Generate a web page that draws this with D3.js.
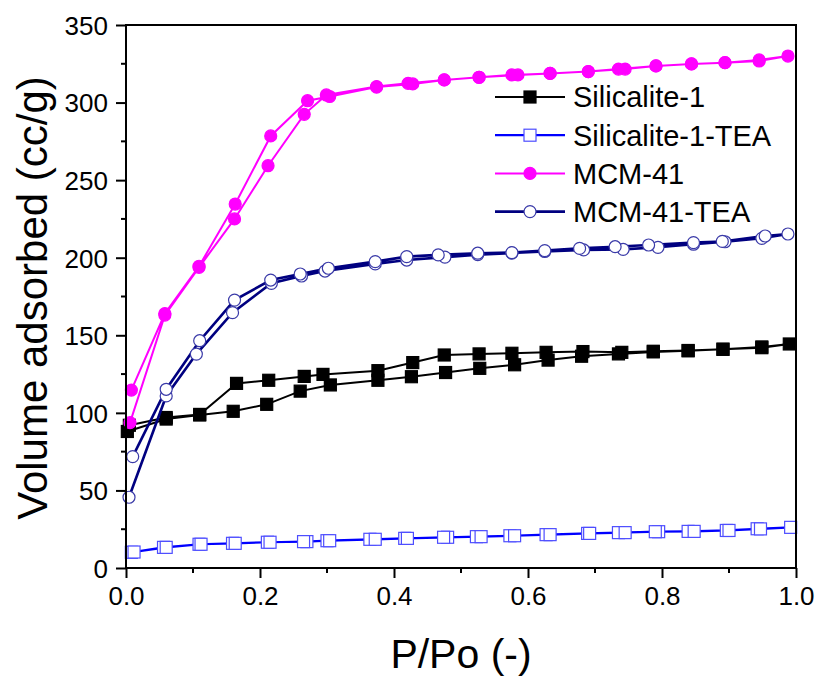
<!DOCTYPE html>
<html lang="en">
<head>
<meta charset="utf-8">
<title>Isotherms</title>
<script src="https://d3js.org/d3.v7.min.js"></script>
<style>
  body { margin: 0; background: #fff; }
  text { font-family: "Liberation Sans", Arial, sans-serif; fill: #000; }
</style>
</head>
<body>
<div id="chart"></div>
<script>
// relative pressure / volume adsorbed, adsorption then desorption branch
var sil1P = [0.002, 0.06, 0.11, 0.16, 0.21, 0.26, 0.305, 0.376, 0.426, 0.477, 0.528, 0.58, 0.63, 0.68, 0.735, 0.787, 0.839, 0.891, 0.949, 0.99,
             0.949, 0.891, 0.839, 0.787, 0.74, 0.682, 0.627, 0.576, 0.527, 0.475, 0.428, 0.376, 0.294, 0.266, 0.213, 0.165, 0.11, 0.06, 0.005];
var sil1V = [88, 96, 98.6, 101, 105.5, 114, 118, 121, 123.3, 126, 128.7, 131, 134, 136.5, 138, 139.3, 140, 141, 142, 144.4,
             142.5, 141, 140.2, 139.7, 139, 139.5, 139, 138.4, 138, 137.3, 132.4, 127.2, 124.8, 123.5, 121, 119, 99, 97, 92];

var silTeaP = [0.008, 0.056, 0.109, 0.159, 0.211, 0.27, 0.3, 0.364, 0.416, 0.48, 0.523, 0.573, 0.627, 0.689, 0.735, 0.795, 0.839, 0.896, 0.942, 0.992,
               0.947, 0.9, 0.848, 0.79, 0.745, 0.692, 0.633, 0.58, 0.53, 0.474, 0.42, 0.372, 0.304, 0.265, 0.215, 0.163, 0.112, 0.06, 0.012];
var silTeaV = [10.1, 13.3, 15.3, 15.9, 16.6, 17, 17.6, 18.5, 19.1, 19.8, 20.2, 20.8, 21.5, 22.3, 22.8, 23.4, 23.6, 24.2, 25.3, 26.2,
               25.2, 24.2, 23.6, 23.4, 22.8, 22.3, 21.5, 20.8, 20.2, 19.8, 19.1, 18.5, 17.6, 17, 16.6, 15.9, 15.3, 13.3, 10.3];

var mcmP = [0.006, 0.058, 0.109, 0.162, 0.212, 0.266, 0.299, 0.374, 0.421, 0.475, 0.527, 0.576, 0.633, 0.69, 0.735, 0.791, 0.844, 0.894, 0.945, 0.988,
            0.945, 0.894, 0.844, 0.791, 0.745, 0.69, 0.633, 0.585, 0.527, 0.475, 0.428, 0.374, 0.304, 0.271, 0.216, 0.163, 0.109, 0.058, 0.008];
var mcmV = [93.7, 163, 193.8, 225, 259.3, 292.4, 304.9, 310.3, 312.4, 314.6, 316.3, 317.8, 318.8, 320, 321.6, 323.6, 324.9, 325.7, 326.8, 330,
            327.5, 325.7, 324.9, 323.6, 321.6, 320, 318.8, 317.8, 316.3, 314.6, 312, 310, 303.9, 301.2, 278.5, 234.6, 194.5, 164, 114.7];

var mcmTeaP = [0.0045, 0.06, 0.105, 0.159, 0.217, 0.262, 0.297, 0.372, 0.419, 0.476, 0.525, 0.576, 0.625, 0.683, 0.742, 0.794, 0.847, 0.894, 0.949, 0.988,
               0.954, 0.89, 0.847, 0.78, 0.73, 0.677, 0.625, 0.576, 0.525, 0.466, 0.419, 0.372, 0.302, 0.26, 0.216, 0.162, 0.11, 0.06, 0.01];
var mcmTeaV = [45.6, 110.9, 137.9, 164.6, 183.5, 188.2, 191.4, 196, 198.5, 200.4, 202, 203, 204, 205, 205.4, 206.7, 208.7, 210.3, 212.5, 215.3,
               214, 210.5, 209.7, 208.2, 207.1, 206, 204.6, 203.3, 202.9, 201.8, 200.7, 197.5, 193.2, 189.5, 185.6, 172.7, 146.5, 115.2, 71.8];

var seriesNames = ["Silicalite-1", "Silicalite-1-TEA", "MCM-41", "MCM-41-TEA"];
var xTicks = [0, 0.2, 0.4, 0.6, 0.8, 1.0];
var yTicks = [0, 50, 100, 150, 200, 250, 300, 350];

var W = 819, H = 688;
var svg = d3.select("#chart").append("svg").attr("width", W).attr("height", H);

var x = d3.scaleLinear().domain([0, 1]).range([126, 796]);
var y = d3.scaleLinear().domain([0, 350]).range([568, 25]);

var styles = [
  { line: "#000000", stroke: "#000000", fill: "#000000", shape: "square", lw: 2 },
  { line: "#0000ff", stroke: "#4d4dff", fill: "#ffffff", shape: "square", lw: 2.2 },
  { line: "#ff00ff", stroke: "#ff00ff", fill: "#ff00ff", shape: "circle", lw: 2 },
  { line: "#000080", stroke: "#3a3aa8", fill: "#ffffff", shape: "circle", lw: 2.6 }
];
var allP = [sil1P, silTeaP, mcmP, mcmTeaP];
var allV = [sil1V, silTeaV, mcmV, mcmTeaV];

function marker(g, st, cx, cy) {
  if (st.shape === "square") {
    g.append("rect").attr("x", cx - 6).attr("y", cy - 6).attr("width", 12).attr("height", 12)
      .attr("fill", st.fill).attr("stroke", st.stroke).attr("stroke-width", 1.2);
  } else {
    g.append("circle").attr("cx", cx).attr("cy", cy).attr("r", 6)
      .attr("fill", st.fill).attr("stroke", st.stroke).attr("stroke-width", 1.2);
  }
}

var line = d3.line().x(d => x(d[0])).y(d => y(d[1]));

allP.forEach(function (ps, i) {
  var st = styles[i];
  var pts = ps.map((p, k) => [p, allV[i][k]]);
  var g = svg.append("g");
  g.append("path").datum(pts).attr("d", line)
    .attr("fill", "none").attr("stroke", st.line).attr("stroke-width", st.lw);
  pts.forEach(d => marker(g, st, x(d[0]), y(d[1])));
});

// axes
var xAxis = d3.axisBottom(x).tickValues(xTicks).tickFormat(d3.format(".1f")).tickSize(10).tickPadding(6);
var yAxis = d3.axisLeft(y).tickValues(yTicks).tickFormat(d3.format("d")).tickSize(10).tickPadding(8);

var gx = svg.append("g").attr("transform", "translate(0,568)").call(xAxis);
var gy = svg.append("g").attr("transform", "translate(126,0)").call(yAxis);
[gx, gy].forEach(function (g) {
  g.select(".domain").remove();
  g.selectAll("line").attr("stroke", "#000").attr("stroke-width", 2);
  g.selectAll("text").style("font-size", "26px").attr("fill", "#000");
});
gx.selectAll("text").attr("dy", "0.8em");
gy.selectAll("text").attr("dy", "0.36em");

// minor ticks
d3.range(0.1, 1, 0.2).forEach(function (v) {
  svg.append("line").attr("x1", x(v)).attr("x2", x(v)).attr("y1", 568).attr("y2", 573)
    .attr("stroke", "#000").attr("stroke-width", 2);
});
d3.range(25, 350, 50).forEach(function (v) {
  svg.append("line").attr("x1", 126).attr("x2", 121).attr("y1", y(v)).attr("y2", y(v))
    .attr("stroke", "#000").attr("stroke-width", 2);
});

// frame
svg.append("rect").attr("x", 126).attr("y", 25).attr("width", 670).attr("height", 543)
  .attr("fill", "none").attr("stroke", "#000").attr("stroke-width", 2);

// legend
var leg = svg.append("g");
seriesNames.forEach(function (name, i) {
  var ly = 97 + i * 38.2;
  var st = styles[i];
  leg.append("line").attr("x1", 495).attr("x2", 565).attr("y1", ly).attr("y2", ly)
    .attr("stroke", st.line).attr("stroke-width", st.lw);
  marker(leg, st, 530, ly);
  leg.append("text").attr("x", 573).attr("y", ly).attr("dy", "0.36em")
    .style("font-size", "29px").text(name);
});

// axis titles
svg.append("text").attr("x", 461).attr("y", 668).attr("text-anchor", "middle")
  .style("font-size", "41px").text("P/Po (-)");
svg.append("text").attr("transform", "translate(47,298) rotate(-90)").attr("text-anchor", "middle")
  .style("font-size", "42px").text("Volume adsorbed (cc/g)");
</script>
</body>
</html>
